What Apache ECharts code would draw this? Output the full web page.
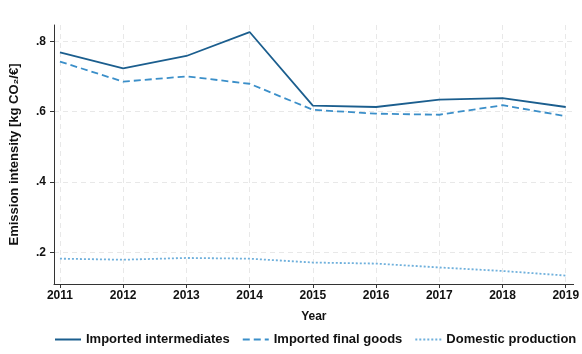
<!DOCTYPE html>
<html>
<head>
<meta charset="utf-8">
<script src="https://cdn.jsdelivr.net/npm/echarts@6/dist/echarts.min.js"></script>
<style>
  html, body { margin: 0; padding: 0; background: #fff; }
  #chart { width: 582px; height: 354px; }
</style>
</head>
<body>
<div id="chart"></div>
<script>
// Emission intensity of imports and domestic production, 2011–2019
const years = [2011, 2012, 2013, 2014, 2015, 2016, 2017, 2018, 2019];
const importedIntermediates = [0.768, 0.723, 0.758, 0.826, 0.617, 0.613, 0.634, 0.638, 0.613];
const importedFinalGoods   = [0.742, 0.685, 0.700, 0.679, 0.605, 0.594, 0.591, 0.618, 0.587];
const domesticProduction   = [0.182, 0.179, 0.184, 0.182, 0.171, 0.168, 0.157, 0.147, 0.134];
const yTicks = [0.2, 0.4, 0.6, 0.8];

const FONT = 'Liberation Sans, Arial, sans-serif';
const pairs = vals => years.map((y, i) => [y, vals[i]]);
const yLabel = v => String(Math.round(v * 10) / 10).replace(/^0/, '');

const chart = echarts.init(document.getElementById('chart'), null, { renderer: 'canvas' });
chart.setOption({
  animation: false,
  backgroundColor: '#ffffff',
  grid: { left: 49, right: 6, top: 25, bottom: 70, containLabel: false },
  xAxis: {
    type: 'value',
    min: 2010.906,
    max: 2019.125,
    name: 'Year',
    nameLocation: 'middle',
    nameGap: 27,
    nameTextStyle: { fontFamily: FONT, fontWeight: 'bold', fontSize: 12, color: '#111' },
    axisLine: { show: true, lineStyle: { color: '#333', width: 1 } },
    axisTick: { show: true, length: 4, customValues: years, lineStyle: { color: '#333' } },
    axisLabel: {
      customValues: years, margin: 6,
      fontFamily: FONT, fontWeight: 'bold', fontSize: 12, color: '#111',
      formatter: v => String(v)
    },
    splitLine: { show: true, lineStyle: { color: '#e8e8e8', type: [5, 4], width: 1 } }
  },
  yAxis: {
    type: 'value',
    min: 0.11,
    max: 0.846,
    name: 'Emission intensity [kg CO\u2082/\u20ac]',
    nameLocation: 'middle',
    nameGap: 33,
    nameTextStyle: { fontFamily: FONT, fontWeight: 'bold', fontSize: 13, color: '#111' },
    axisLine: { show: true, lineStyle: { color: '#333', width: 1 } },
    axisTick: { show: true, length: 4, customValues: yTicks, lineStyle: { color: '#333' } },
    axisLabel: {
      customValues: yTicks, margin: 8,
      fontFamily: FONT, fontWeight: 'bold', fontSize: 12, color: '#111',
      formatter: yLabel
    },
    splitLine: { show: true, lineStyle: { color: '#e8e8e8', type: [5, 4], width: 1 } }
  },
  legend: {
    bottom: 8,
    left: 54,
    right: 0,
    padding: 0,
    itemWidth: 26,
    itemHeight: 10,
    itemGap: 12,
    itemStyle: { opacity: 0 },
    textStyle: { fontFamily: FONT, fontWeight: 'bold', fontSize: 13, color: '#111' },
    data: ['Imported intermediates', 'Imported final goods', 'Domestic production']
  },
  series: [
    {
      name: 'Imported intermediates', type: 'line', data: pairs(importedIntermediates),
      symbol: 'none', color: '#1b5e8e',
      lineStyle: { width: 1.8, type: 'solid', color: '#1b5e8e' }
    },
    {
      name: 'Imported final goods', type: 'line', data: pairs(importedFinalGoods),
      symbol: 'none', color: '#3b8fc9',
      lineStyle: { width: 1.8, type: [7, 4], color: '#3b8fc9' }
    },
    {
      name: 'Domestic production', type: 'line', data: pairs(domesticProduction),
      symbol: 'none', color: '#6fb0dc',
      lineStyle: { width: 1.8, type: [2, 2], color: '#6fb0dc' }
    }
  ]
});
</script>
</body>
</html>
